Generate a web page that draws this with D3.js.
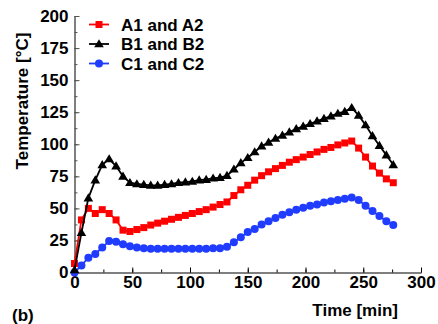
<!DOCTYPE html>
<html><head><meta charset="utf-8">
<script src="https://cdn.jsdelivr.net/npm/d3@7"></script>
<style>
html,body{margin:0;padding:0;background:#fff;}
svg{display:block;font-family:"Liberation Sans",Arial,sans-serif;font-weight:bold;}
</style></head>
<body>
<svg id="chart" width="438" height="324"></svg>
<script>
const time = [0,6,12,18,24,30,36,42,48,54,60,66,72,78,84,90,96,102,108,114,120,126,132,138,144,150,156,162,168,174,180,186,192,198,204,210,216,222,228,234,240,246,252,258,264,270,276];
const seriesA = [7,41,50,46,49,46,41,33,32,33.5,35,37,38.5,40,41.5,43,44.5,46,47.5,49,51,53,55,60,64.5,68,72,75.5,78.5,81,83.5,86,88,90,92,94,96,97.5,99.5,101,102.5,97,90,83,77.5,73,70];
const seriesB = [2,31,58,72,84,88.5,83,75,70,69,68.5,68,68,68.5,69,70,70.5,71,72,72.5,73.5,74,75.5,80.5,85.5,89.5,94,98.5,101.5,104.5,107,109.5,112,114,116,118,120,122,124,125.5,128.5,122.5,115,106.5,99,91.5,84];
const seriesC = [0,5.5,11.5,14.5,19.5,24.5,24,22,20.5,19.5,19,18.5,18.5,18.5,18.5,18.5,18.5,18.5,18.5,18.5,19,19,20,23.5,27.5,31.5,34,37.5,40,42.5,45,47,49,50.5,52,53,54.5,55.5,56.5,57.5,58.5,56.5,52,48,44,40,37];
const seriesNames = ["A1 and A2","B1 and B2","C1 and C2"];
const seriesColors = ["#ff0000","#000000","#1f3cff"];
const seriesMarkers = ["square","triangle","circle"];
const xTicks = [0,50,100,150,200,250,300];
const yTicks = [0,25,50,75,100,125,150,175,200];
const xTitle = "Time [min]";
const yTitle = "Temperature [°C]";
const panelLabel = "(b)";

const svg = d3.select("#chart");
const x = d3.scaleLinear().domain([0,300]).range([74.5,421]);
const y = d3.scaleLinear().domain([0,200]).range([272.5,16]);

const fs = 17;
// minor ticks
const xMinor = d3.range(0,301,25);
const yMinor = d3.range(0,201,12.5);
svg.append("g").attr("transform","translate(0,272.5)")
  .call(d3.axisBottom(x).tickValues(xMinor).tickSizeInner(-3).tickSizeOuter(0).tickFormat(""))
  .call(g=>g.select(".domain").remove())
  .call(g=>g.selectAll("line").attr("stroke","#000"));
svg.append("g").attr("transform","translate(74.5,0)")
  .call(d3.axisLeft(y).tickValues(yMinor).tickSizeInner(-3).tickSizeOuter(0).tickFormat(""))
  .call(g=>g.select(".domain").remove())
  .call(g=>g.selectAll("line").attr("stroke","#555"));
// major
const gx = svg.append("g").attr("transform","translate(0,272.5)")
  .call(d3.axisBottom(x).tickValues(xTicks).tickSizeInner(-5).tickSizeOuter(0).tickPadding(3).tickFormat(d3.format("d")));
gx.select(".domain").attr("stroke","#000").attr("stroke-width",1.2);
gx.selectAll("text").attr("font-size",fs).attr("font-weight","bold").attr("fill","#000").attr("font-family","Liberation Sans, Arial, sans-serif");
gx.selectAll("line").attr("stroke","#000");
const gy = svg.append("g").attr("transform","translate(74.5,0)")
  .call(d3.axisLeft(y).tickValues(yTicks).tickSizeInner(-5).tickSizeOuter(0).tickPadding(6).tickFormat(d3.format("d")));
gy.select(".domain").attr("stroke","#555").attr("stroke-width",1.5);
gy.selectAll("text").attr("font-size",fs).attr("font-weight","bold").attr("fill","#000").attr("font-family","Liberation Sans, Arial, sans-serif");
gy.selectAll("line").attr("stroke","#555");

// titles
svg.append("text").attr("x",398).attr("y",316).attr("text-anchor","end")
  .attr("font-size",fs).text(xTitle);
svg.append("text").attr("transform","translate(28,101) rotate(-90)").attr("text-anchor","middle")
  .attr("font-size",fs).text(yTitle);
svg.append("text").attr("x",12).attr("y",321).attr("font-size",fs).text(panelLabel);

function drawMarker(g, type, cx, cy, color){
  if(type==="square"){
    g.append("rect").attr("x",cx-3.5).attr("y",cy-3.5).attr("width",7).attr("height",7).attr("fill",color);
  } else if(type==="triangle"){
    const s=4.8;
    g.append("path").attr("d",`M${cx},${cy-s}L${cx+s},${cy+s*0.7}L${cx-s},${cy+s*0.7}Z`).attr("fill",color);
  } else {
    g.append("circle").attr("cx",cx).attr("cy",cy).attr("r",4).attr("fill",color);
  }
}

const allSeries = [seriesA, seriesB, seriesC];
const line = d3.line().x(d=>x(d[0])).y(d=>y(d[1]));
// draw order: C, A, B
[2,0,1].forEach(i=>{
  const pts = time.map((t,j)=>[t, allSeries[i][j]]);
  const g = svg.append("g");
  g.append("path").attr("d", line(pts)).attr("fill","none").attr("stroke",seriesColors[i]).attr("stroke-width",1.8);
  pts.forEach(p=>drawMarker(g, seriesMarkers[i], x(p[0]), y(p[1]), seriesColors[i]));
});

// legend
const legY = [24.5,44,63.5];
seriesNames.forEach((n,i)=>{
  const g = svg.append("g");
  g.append("line").attr("x1",89).attr("x2",109).attr("y1",legY[i]).attr("y2",legY[i])
    .attr("stroke",seriesColors[i]).attr("stroke-width",1.8);
  drawMarker(g, seriesMarkers[i], 99, legY[i], seriesColors[i]);
  g.append("text").attr("x",121).attr("y",legY[i]+6).attr("font-size",fs).attr("fill","#000").text(n);
});
</script>
</body></html>
